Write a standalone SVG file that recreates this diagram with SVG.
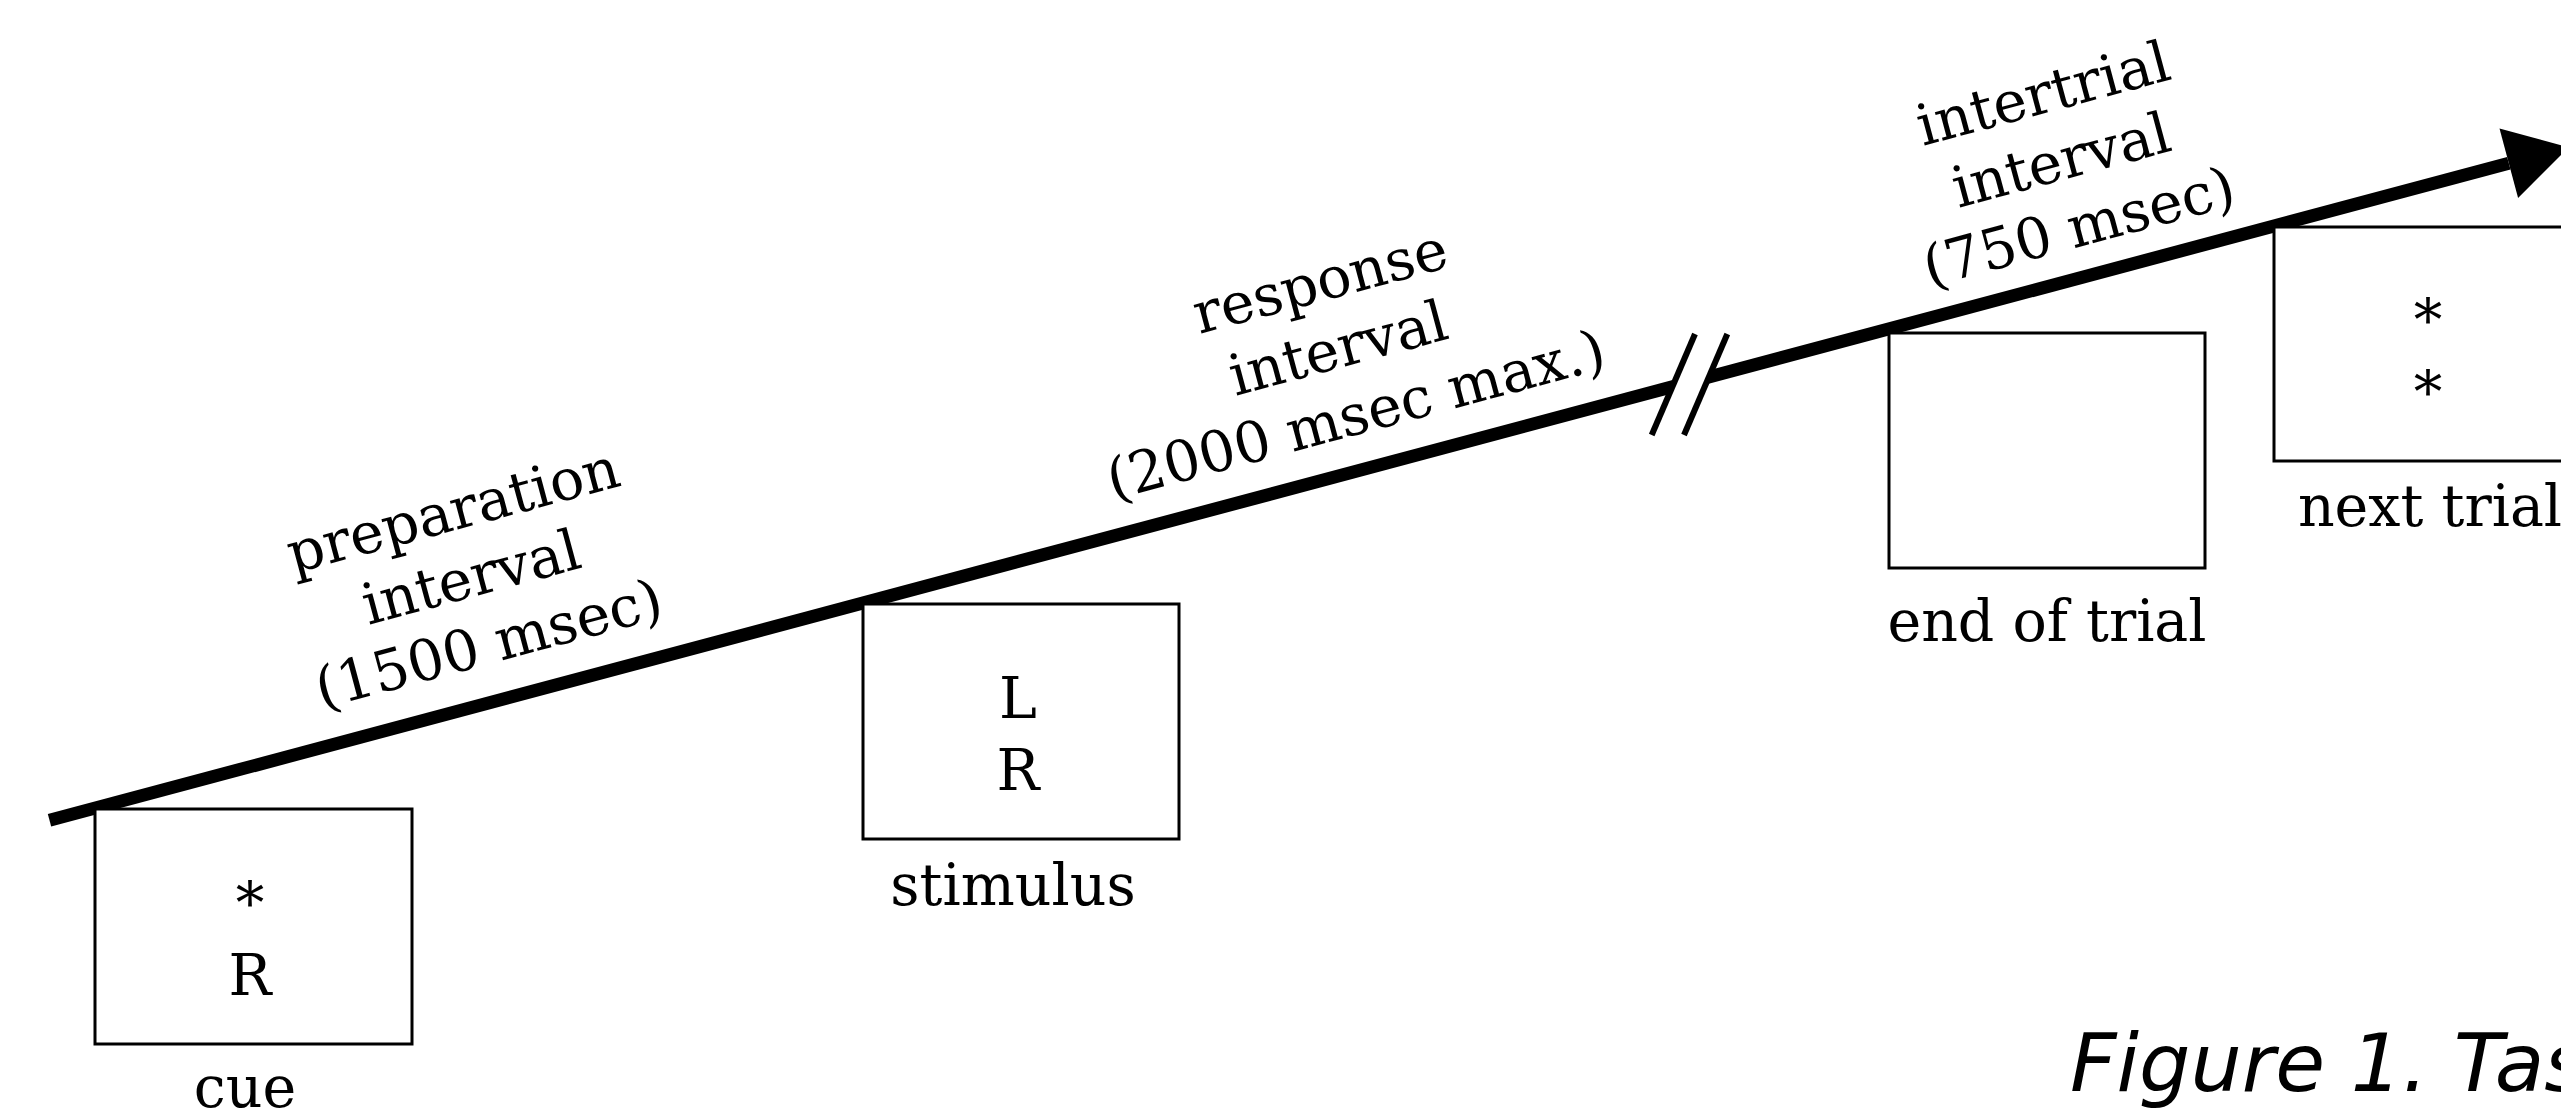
<svg xmlns="http://www.w3.org/2000/svg" width="2561" height="1114" viewBox="0 0 2561 1114">
<style>
.box{fill:#fff;stroke:#000;stroke-width:3}
.t{font-family:"DejaVu Serif","Liberation Serif",serif;font-size:57px;fill:#000;text-anchor:middle}
.cap{font-family:"DejaVu Sans","Liberation Sans",sans-serif;font-style:italic;font-size:81px;fill:#000}
.axis{fill:none;stroke:#000;stroke-width:13}
.slash{fill:none;stroke:#000;stroke-width:6}
</style>
<defs>
<marker id="ah" markerUnits="userSpaceOnUse" orient="auto" refX="0" refY="0" markerWidth="70" markerHeight="80" viewBox="0 -40 70 80" overflow="visible">
<path d="M0,-36 L62,0 L0,36 z" fill="#000"/>
</marker>
</defs>
<rect width="2561" height="1114" fill="#fff"/>
<g id="connectors">
<line class="axis" x1="49.5" y1="820.3" x2="2508.8" y2="163.3" marker-end="url(#ah)"/>
<polygon points="1695,334 1727.3,334 1684,435 1651.7,435" fill="#fff"/>
<line class="slash" x1="1695" y1="334" x2="1651.7" y2="435"/>
<line class="slash" x1="1727.3" y1="334" x2="1684" y2="435"/>
</g>
<g id="cue">
<rect class="box" x="95" y="809" width="317" height="235"/>
<text class="t" x="250" y="923">*</text>
<text class="t" x="250" y="995">R</text>
<text class="t" x="245" y="1107">cue</text>
</g>
<g id="stimulus">
<rect class="box" x="863" y="604" width="316" height="235"/>
<text class="t" x="1018" y="718">L</text>
<text class="t" x="1018" y="790">R</text>
<text class="t" x="1013" y="905">stimulus</text>
</g>
<g id="end-of-trial">
<rect class="box" x="1889" y="333" width="316" height="235"/>
<text class="t" x="2047" y="641">end of trial</text>
</g>
<g id="next-trial">
<rect class="box" x="2274" y="227" width="316" height="234"/>
<text class="t" x="2428" y="340">*</text>
<text class="t" x="2428" y="412">*</text>
<text class="t" x="2430" y="526">next trial</text>
</g>
<g id="preparation-interval" transform="translate(476,596) rotate(-15)">
<text class="t" x="0" y="-69">preparation</text>
<text class="t" x="0" y="0">interval</text>
<text class="t" x="0" y="69">(1500 msec)</text>
</g>
<g id="response-interval" transform="translate(1343,367) rotate(-15)">
<text class="t" x="0" y="-69">response</text>
<text class="t" x="0" y="0">interval</text>
<text class="t" x="0" y="69">(2000 msec max.)</text>
</g>
<g id="intertrial-interval" transform="translate(2066,179) rotate(-15)">
<text class="t" x="0" y="-69">intertrial</text>
<text class="t" x="0" y="0">interval</text>
<text class="t" x="0" y="69">(750 msec)</text>
</g>
<g id="caption">
<text class="cap" x="2070" y="1091">Figure 1. Tas</text>
</g>
</svg>
